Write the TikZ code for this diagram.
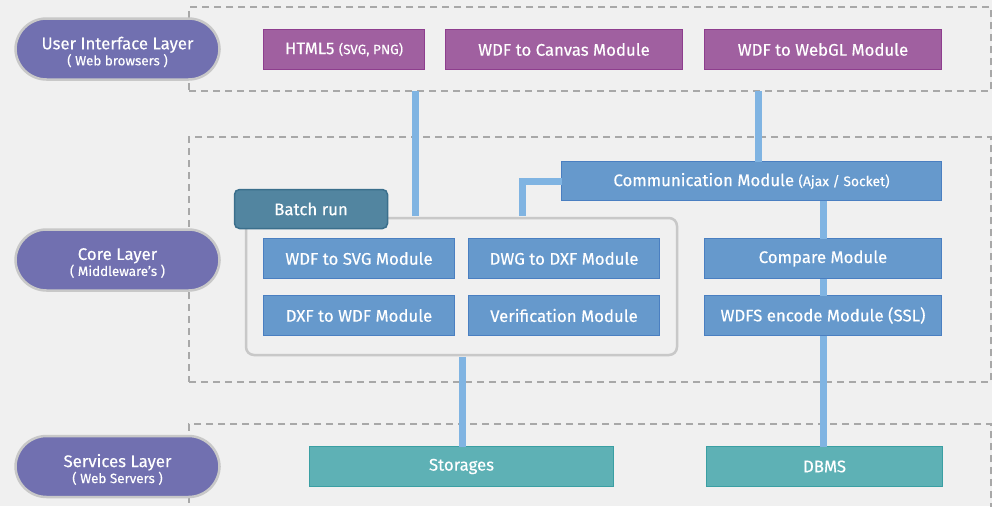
\documentclass[tikz,border=0pt]{standalone}
\usepackage{fontspec}
\setmainfont{Fira Sans}[UprightFeatures={FakeBold=0.35}]
\definecolor{bg}{HTML}{F0F0F0}
\definecolor{pillfill}{HTML}{7170B0}
\definecolor{pillborder}{HTML}{C8C8C8}
\definecolor{dashgray}{HTML}{A8A8A8}
\definecolor{purpfill}{HTML}{A060A0}
\definecolor{purpline}{HTML}{8E3E8E}
\definecolor{bluefill}{HTML}{6699CC}
\definecolor{blueline}{HTML}{4A7FC1}
\definecolor{connc}{HTML}{80B4E2}
\definecolor{tabfill}{HTML}{5285A0}
\definecolor{tabline}{HTML}{3B6F8C}
\definecolor{tealfill}{HTML}{5EB1B5}
\definecolor{tealline}{HTML}{3A9FA3}
\begin{document}
\begin{tikzpicture}[x=1pt,y=-1pt,
  every node/.style={font=\fontsize{16.8}{19}\selectfont, text=white, inner sep=0pt},
  pill/.style={draw=pillborder, line width=2.5pt, fill=pillfill, rounded corners=31pt,
    minimum width=204pt, minimum height=61pt},
  pilltext/.style={align=center},
  sub/.style={font=\fontsize{13.4}{15}\selectfont},
  dashbox/.style={draw=dashgray, line width=1.6pt, dash pattern=on 7pt off 5pt, minimum width=802pt},
  purpmod/.style={draw=purpline, fill=purpfill, line width=1.5pt, minimum height=40pt},
  bluemod/.style={draw=blueline, fill=bluefill, line width=1.5pt, minimum height=40pt},
  tealmod/.style={draw=tealline, fill=tealfill, line width=1.5pt, minimum height=40pt},
  conn/.style={draw=connc, line width=7pt},
]
\fill[bg] (0,0) rectangle (992,506);
\useasboundingbox (0,0) rectangle (992,506);
\clip (0,0) rectangle (992,506);

% dashed layer boxes
\node[dashbox, minimum height=84pt] (uibox) at (590,49) {};
\node[dashbox, minimum height=245pt] (corebox) at (590,259.5) {};
\node[dashbox, minimum height=136pt] (svcbox) at (590,492) {};

% layer pills
\node[pill] (uipill) at (117.5,49) {};
\node[pilltext] (uitext) at ([yshift=-3pt]uipill.center) {User Interface Layer\\[-3pt]{\fontsize{13.4}{15}\selectfont ( Web browsers )}};
\node[pill] (corepill) at (117.5,260) {};
\node[pilltext] (coretext) at ([yshift=-3pt]corepill.center) {Core Layer\\[-3pt]{\fontsize{13.4}{15}\selectfont ( Middleware’s )}};
\node[pill] (svcpill) at (117.5,466.5) {};
\node[pilltext] (svctext) at ([yshift=-3pt]svcpill.center) {Services Layer\\[-3pt]{\fontsize{13.4}{15}\selectfont ( Web Servers )}};

% batch container
\node[draw=pillborder, line width=2.5pt, rounded corners=8pt, minimum width=431pt, minimum height=137pt] (batch) at (461.5,286.5) {};

% coordinates for connector x positions
\coordinate (x415) at (415,0);
\coordinate (x758) at (758,0);
\coordinate (x522) at (522,0);
\coordinate (x823) at (823,0);
\coordinate (x462) at (462,0);

% UI modules
\node[purpmod, minimum width=161pt] (html) at (344,49.5) {HTML5 {\fontsize{13.5}{15}\selectfont (SVG, PNG)}};
\node[purpmod, minimum width=237pt] (canvas) at (564,49.5) {WDF to Canvas Module};
\node[purpmod, minimum width=237pt] (webgl) at (823,49.5) {WDF to WebGL Module};

% core modules
\node[bluemod, minimum width=380pt, minimum height=39pt] (comm) at (751.5,181) {Communication Module {\fontsize{13.8}{15}\selectfont (Ajax / Socket)}};
\node[bluemod, minimum width=191pt] (wdfsvg) at (359,258.5) {WDF to SVG Module};
\node[bluemod, minimum width=191pt] (dwg) at (564,258.5) {DWG to DXF Module};
\node[bluemod, minimum width=191pt] (dxf) at (359,315.5) {DXF to WDF Module};
\node[bluemod, minimum width=191pt] (verif) at (564,315.5) {Verification Module};
\node[bluemod, minimum width=237pt] (compare) at (823,258.5) {Compare Module};
\node[bluemod, minimum width=237pt] (wdfs) at (823,315.5) {WDFS encode Module (SSL)};

% service modules
\node[tealmod, minimum width=304pt] (storages) at (461.5,466.5) {Storages};
\node[tealmod, minimum width=236pt] (dbms) at (824.5,466.5) {DBMS};

% connectors
\draw[conn] ([yshift=0.8pt]uibox.south -| x415) -- ([yshift=1pt]batch.north -| x415);
\draw[conn] ([yshift=0.8pt]uibox.south -| x758) -- ([yshift=-0.75pt]comm.north -| x758);
\draw[conn] ([xshift=0.75pt]comm.west) -| ([yshift=1pt]batch.north -| x522);
\draw[conn] ([yshift=0.75pt]comm.south -| x823) -- ([yshift=-0.75pt]compare.north -| x823);
\draw[conn] ([yshift=0.75pt]compare.south -| x823) -- ([yshift=-0.75pt]wdfs.north -| x823);
\draw[conn] ([yshift=0.75pt]wdfs.south -| x823) -- ([yshift=-0.75pt]dbms.north -| x823);
\draw[conn] ([yshift=-1pt]batch.south -| x462) -- ([yshift=-0.75pt]storages.north -| x462);

% batch tab on top
\node[draw=tabline, fill=tabfill, line width=1.5pt, rounded corners=5pt, minimum width=153pt, minimum height=39pt] (tab) at (311,209) {Batch run};
\end{tikzpicture}
\end{document}
